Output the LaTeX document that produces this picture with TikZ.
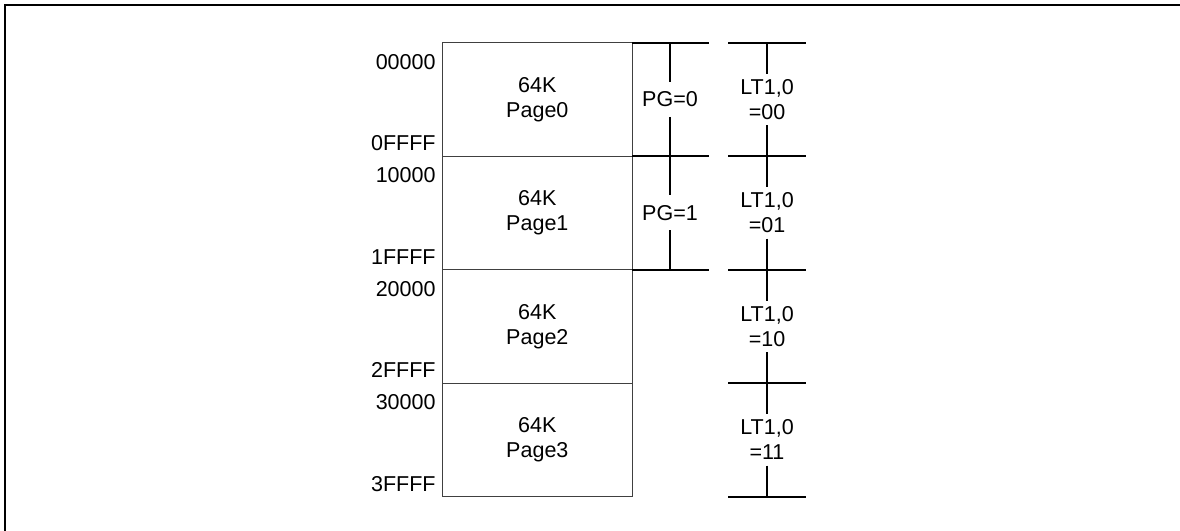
\documentclass[tikz,border=0pt]{standalone}
\usepackage{fontspec}
\setmainfont{Liberation Sans}
\usetikzlibrary{positioning}

\begin{document}
\begin{tikzpicture}[
    x=0.025cm, y=-0.025cm,
    font=\fontsize{15.3}{17.8}\selectfont,
    page/.style={draw=black!75, line width=0.6pt, minimum width=4.733cm, minimum height=2.8375cm,
                 align=center, inner sep=0pt, outer sep=0pt},
    addr/.style={anchor=east, inner sep=0pt},
    pglabel/.style={align=center, inner xsep=0pt, inner ysep=7pt, outer sep=0pt},
    ltlabel/.style={align=center, inner xsep=0pt, inner ysep=4pt, outer sep=0pt},
    bar/.style={line width=1.5pt},
    frame/.style={line width=1.9pt},
  ]

  \useasboundingbox (0,0) rectangle (1180,531);
  \draw[frame] (5,560) -- (5,5) -- (1200,5);

  % memory pages with start / end addresses
  \foreach \i/\lt in {0/00,1/01,2/10,3/11} {
    \node[page] (page\i) at (537.35, 99.45+113.5*\i) {64K\\Page\i};
    \node[addr] (start\i) at ([xshift=-0.17cm, yshift=-0.475cm]page\i.north west) {\i0000};
    \node[addr] (end\i)   at ([xshift=-0.17cm, yshift=0.32cm]page\i.south west) {\i{}FFFF};
    \node[ltlabel] (lt\i) at (767, 99.45+113.5*\i) {LT1,0\\=\lt};
  }

  \node[pglabel] (pg0) at (670, 99.45) {PG=0};
  \node[pglabel] (pg1) at (670, 212.95) {PG=1};

  % PG bit ticks
  \foreach \i in {0,1}
    \draw[bar] (page\i.north east) -- ++(77,0);
  \draw[bar] (page1.south east) -- ++(77,0);
  \draw[bar] (pg0 |- page0.north) -- (pg0.north);
  \draw[bar] (pg0.south) -- (pg1.north);
  \draw[bar] (pg1.south) -- (pg1 |- page1.south);

  % LT1,0 ticks
  \foreach \i in {0,...,3}
    \draw[bar] ([xshift=2.4cm]page\i.north east) -- ++(78,0);
  \draw[bar] ([xshift=2.4cm]page3.south east) -- ++(78,0);
  \draw[bar] (lt0 |- page0.north) -- (lt0.north);
  \draw[bar] (lt0.south) -- (lt1.north);
  \draw[bar] (lt1.south) -- (lt2.north);
  \draw[bar] (lt2.south) -- (lt3.north);
  \draw[bar] (lt3.south) -- (lt3 |- page3.south);

\end{tikzpicture}
\end{document}
